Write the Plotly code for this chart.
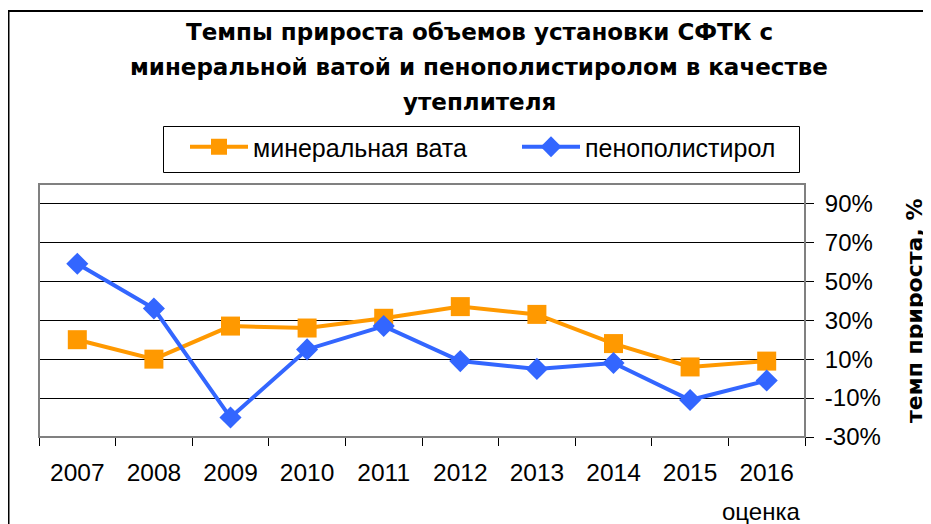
import plotly.graph_objects as go

years = ["2007", "2008", "2009", "2010", "2011", "2012", "2013", "2014", "2015", "2016"]
mineral_wool = [20, 10, 27, 26, 31, 37, 33, 18, 6, 9]
polystyrene = [59, 36, -20, 15, 27, 9, 5, 8, -11, -1]
y_ticks = [-30, -10, 10, 30, 50, 70, 90]
y_tick_text = ["-30%", "-10%", "10%", "30%", "50%", "70%", "90%"]
title_lines = ["Темпы прироста объемов установки СФТК с",
               "минеральной ватой и пенополистиролом в качестве",
               "утеплителя"]
y_title = "темп прироста, %"
last_note = "оценка"

# the page body has an 8px margin, so the figure is offset by 8px
OFF = 8
W, H = 931 - OFF, 524 - OFF
L, R, T, B = 39 - OFF, 931 - 805, 184 - OFF, 524 - 437
pw, ph = W - L - R, H - T - B

def px(xp):  # reference page pixel -> paper x
    return (xp - OFF - L) / pw

def py(yp):  # reference page pixel -> paper y
    return 1 - (yp - OFF - T) / ph

FONT = "Liberation Sans, Arial, sans-serif"
TFONT = "DejaVu Sans, sans-serif"

fig = go.Figure()
fig.add_trace(go.Scatter(
    x=years, y=mineral_wool, name="минеральная вата", mode="lines+markers",
    line=dict(color="#FF9900", width=4),
    marker=dict(symbol="square", size=19, color="#FF9900"),
))
fig.add_trace(go.Scatter(
    x=years, y=polystyrene, name="пенополистирол", mode="lines+markers",
    line=dict(color="#3366FF", width=4),
    marker=dict(symbol="diamond", size=17, color="#3366FF"),
))

annotations = []
for t, yc in zip(title_lines, [32, 67, 102]):
    annotations.append(dict(text="<b>" + t + "</b>", x=px(479), y=py(yc), xref="paper", yref="paper",
                            xanchor="center", yanchor="middle", showarrow=False,
                            font=dict(family=TFONT, size=23, color="black")))
annotations.append(dict(text="<b>" + y_title + "</b>", x=px(914), y=py(311), xref="paper", yref="paper",
                        xanchor="center", yanchor="middle", showarrow=False, textangle=-90,
                        font=dict(family=TFONT, size=22, color="black")))
annotations.append(dict(text=last_note, x=px(761), y=py(511), xref="paper", yref="paper",
                        xanchor="center", yanchor="middle", showarrow=False,
                        font=dict(family=FONT, size=24, color="black")))

shapes = [
    dict(type="rect", xref="paper", yref="paper", x0=0, x1=1, y0=0, y1=1,
         line=dict(color="#808080", width=2), layer="above"),
    dict(type="rect", xref="paper", yref="paper", x0=px(8.5), x1=px(931 + 20), y0=py(524 + 20), y1=py(11),
         line=dict(color="black", width=2), layer="below"),
    # legend frame
    dict(type="rect", xref="paper", yref="paper", x0=px(163.5), x1=px(799.5), y0=py(172.5), y1=py(126.5),
         line=dict(color="black", width=1), fillcolor="white", layer="below"),
]

fig.update_layout(
    width=W, height=H,
    margin=dict(l=L, r=R, t=T, b=B),
    paper_bgcolor="white", plot_bgcolor="white",
    font=dict(family=FONT, size=22, color="black"),
    showlegend=True,
    legend=dict(orientation="h", x=px(185), xanchor="left", y=py(124), yanchor="top",
                borderwidth=0, bgcolor="rgba(0,0,0,0)",
                font=dict(family=FONT, size=25, color="black"),
                itemwidth=58, entrywidth=259),
    xaxis=dict(type="category", categoryorder="array", categoryarray=years, range=[-0.5, 9.5],
               showgrid=False, showline=True, linecolor="black", linewidth=1,
               ticks="outside", tickson="boundaries", ticklen=8, tickcolor="black",
               tickfont=dict(family=FONT, size=24.5), ticklabelstandoff=14),
    yaxis=dict(side="right", range=[-30, 100], tickmode="array", tickvals=y_ticks, ticktext=y_tick_text,
               showgrid=True, gridcolor="black", gridwidth=1, zeroline=False,
               showline=False, ticks="outside", ticklen=8, tickcolor="black",
               tickfont=dict(family=FONT, size=24), ticklabelstandoff=6),
    annotations=annotations,
    shapes=shapes,
)

fig.write_html("out.html")
